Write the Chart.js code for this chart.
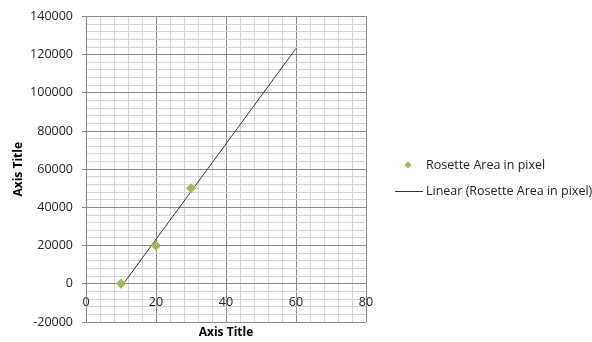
<!DOCTYPE html>
<html>
<head>
<meta charset="utf-8">
<script src="https://cdn.jsdelivr.net/npm/chart.js@4/dist/chart.umd.min.js"></script>
<style>
  html, body { margin: 0; padding: 0; background: #fff; }
  #wrap { width: 592px; height: 342px; }
</style>
</head>
<body>
<div id="wrap"><canvas id="myChart" width="592" height="342"></canvas></div>
<script>
// values
var seriesName = "Rosette Area in pixel";
var trendName = "Linear (Rosette Area in pixel)";
var xValues = [10, 20, 30];
var yValues = [0, 20000, 50000];
// trendline end points (Excel linear trendline, forecast forward)
var trendX = [10, 60];
var trendY = [-1700, 123300];
var xTitle = "Axis Title";
var yTitle = "Axis Title";

var pts = xValues.map(function(x, i) { return {x: x, y: yValues[i]}; });
var trendPts = trendX.map(function(x, i) { return {x: x, y: trendY[i]}; });

var majorGrid = "#888888";
var minorGrid = "#d4d4d4";
var green = "#9bbb59";
var font = "'Open Sans', sans-serif";

/********************* legend + x title drawn by hand ***********************/
var extrasPlugin = {
  id: "extras",
  afterDraw: function(chart) {
    var ctx = chart.ctx;
    var area = chart.chartArea;
    ctx.save();
    // x axis title
    ctx.fillStyle = "#000";
    ctx.font = "bold 12px " + font;
    ctx.textAlign = "center";
    ctx.textBaseline = "middle";
    ctx.fillText(xTitle, (area.left + area.right) / 2, 333);

    // legend
    ctx.font = "12.5px " + font;
    ctx.textAlign = "left";
    var lx = 408, ly = 165;
    ctx.fillStyle = green;
    ctx.beginPath();
    ctx.moveTo(lx, ly - 3.5);
    ctx.lineTo(lx + 3.5, ly);
    ctx.lineTo(lx, ly + 3.5);
    ctx.lineTo(lx - 3.5, ly);
    ctx.closePath();
    ctx.fill();
    ctx.fillStyle = "#222";
    ctx.fillText(chart.data.datasets[0].label, 426, ly);

    ly = 191;
    ctx.strokeStyle = "#333";
    ctx.lineWidth = 1;
    ctx.beginPath();
    ctx.moveTo(395, ly + 0.5);
    ctx.lineTo(423, ly + 0.5);
    ctx.stroke();
    ctx.fillText(chart.data.datasets[1].label, 426, ly);
    ctx.restore();
  }
};

function isMajor(v, step) { return Math.abs(v % step) < 1e-6; }

new Chart("myChart", {
  type: "scatter",
  data: {
    datasets: [{
      label: seriesName,
      data: pts,
      pointStyle: "rectRot",
      pointRadius: 5,
      pointHoverRadius: 5,
      backgroundColor: green,
      borderColor: green,
      borderWidth: 0
    }, {
      label: trendName,
      type: "line",
      data: trendPts,
      borderColor: "#333",
      borderWidth: 1,
      pointRadius: 0,
      fill: false
    }]
  },
  options: {
    responsive: false,
    animation: false,
    layout: { padding: { left: 0, right: 226, top: 15, bottom: 20 } },
    plugins: {
      legend: { display: false },
      tooltip: { enabled: false }
    },
    scales: {
      x: {
        type: "linear",
        position: { y: 0 },
        min: 0,
        max: 80,
        afterFit: function(scale) { scale.height = 0; },
        ticks: {
          stepSize: 4,
          autoSkip: false,
          maxRotation: 0,
          padding: 7,
          color: "#222",
          font: { family: font, size: 12.5 },
          callback: function(v) { return isMajor(v, 20) ? String(v) : ""; }
        },
        grid: {
          color: function(c) { return isMajor(c.tick.value, 20) ? majorGrid : minorGrid; },
          tickColor: function(c) { return isMajor(c.tick.value, 20) ? majorGrid : "rgba(0,0,0,0)"; },
          tickLength: 4,
          lineWidth: 1
        },
        border: { color: majorGrid }
      },
      y: {
        type: "linear",
        position: "left",
        min: -20000,
        max: 140000,
        afterFit: function(scale) { scale.width = 86; },
        ticks: {
          stepSize: 4000,
          autoSkip: false,
          padding: 9,
          color: "#222",
          font: { family: font, size: 12.5 },
          callback: function(v) { return isMajor(v, 20000) ? String(v) : ""; }
        },
        grid: {
          color: function(c) { return isMajor(c.tick.value, 20000) ? majorGrid : minorGrid; },
          tickColor: function(c) { return isMajor(c.tick.value, 20000) ? majorGrid : "rgba(0,0,0,0)"; },
          tickLength: 4,
          lineWidth: 1
        },
        border: { color: majorGrid },
        title: {
          display: true,
          text: yTitle,
          color: "#000",
          font: { family: font, size: 12, weight: "bold" },
          padding: { top: 11, bottom: 0 }
        }
      }
    }
  },
  plugins: [extrasPlugin]
});
</script>
</body>
</html>
